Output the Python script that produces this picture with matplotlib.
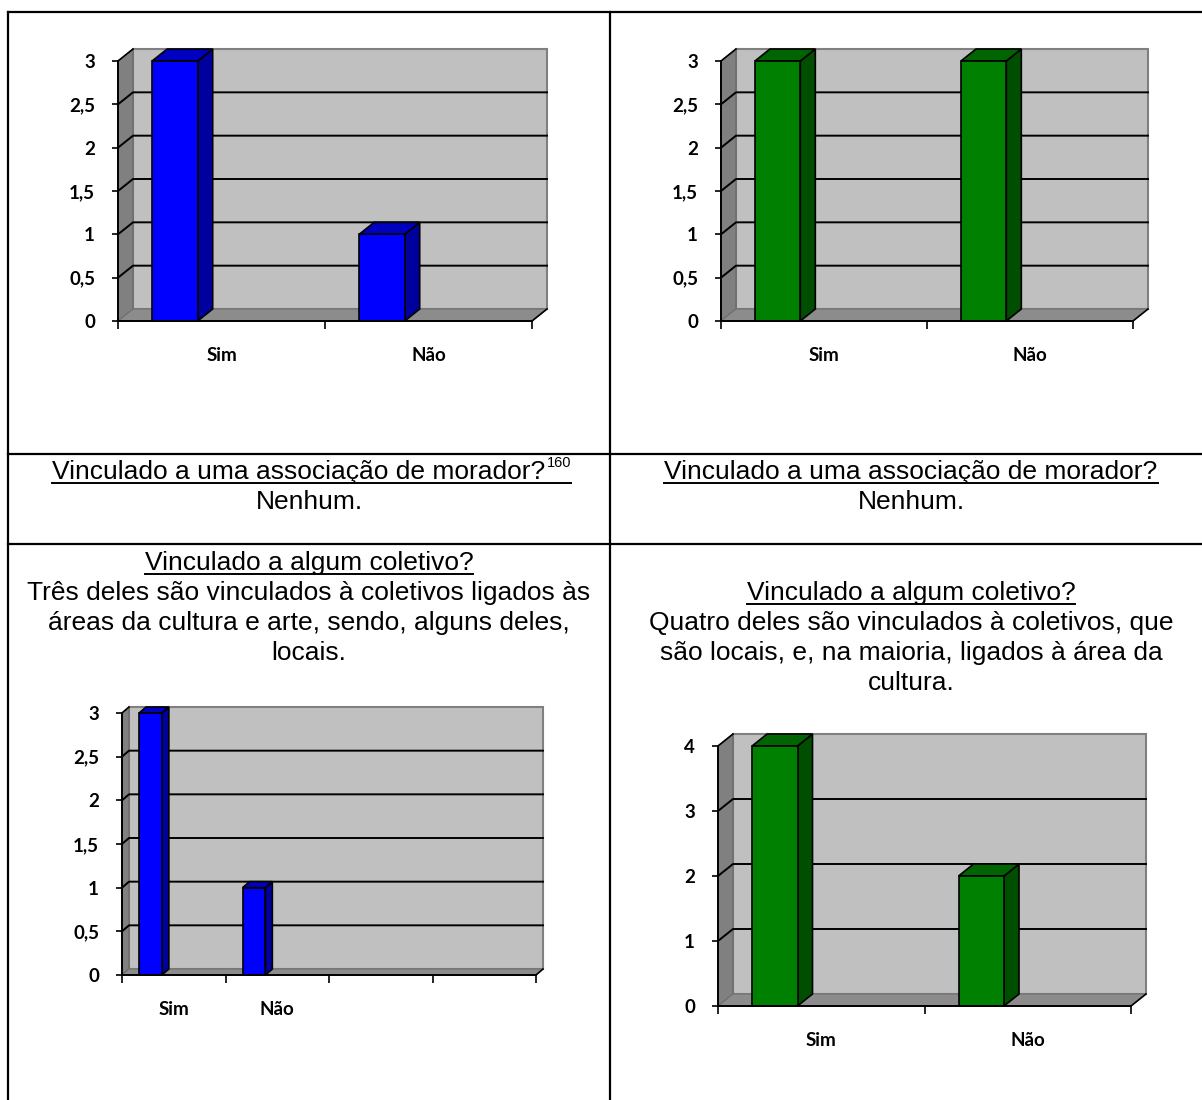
import matplotlib
matplotlib.use("Agg")
import matplotlib.pyplot as plt
from matplotlib.lines import Line2D
from matplotlib.patches import Polygon, Rectangle
from matplotlib.ticker import FixedLocator, FuncFormatter, NullFormatter

# dados dos quatro gráficos
categorias = ["Sim", "Não"]
categorias_coletivo_esq = ["Sim", "Não", "", ""]

valores_morador_esq = [3, 1]
valores_morador_dir = [3, 3]
valores_coletivo_esq = [3, 1]
valores_coletivo_dir = [4, 2]

ticks_meio = [0, 0.5, 1, 1.5, 2, 2.5, 3]
ticks_inteiros = [0, 1, 2, 3, 4]

# textos da tabela
pergunta_morador = "Vinculado a uma associação de morador?"
nota_morador = "160"
resposta_morador = "Nenhum."
pergunta_coletivo = "Vinculado a algum coletivo?"
resposta_coletivo_esq = [
    "Três deles são vinculados à coletivos ligados às",
    "áreas da cultura e arte, sendo, alguns deles,",
    "locais.",
]
resposta_coletivo_dir = [
    "Quatro deles são vinculados à coletivos, que",
    "são locais, e, na maioria, ligados à área da",
    "cultura.",
]

AZUL = ("#0000FF", "#00009E", "#0000C0")
VERDE = ("#008000", "#004F00", "#006400")

W, H = 1202, 1100
fig = plt.figure(figsize=(W / 100, H / 100), dpi=100)
fig.patch.set_facecolor("white")

FONTE_EIXO = dict(family=["Lato", "DejaVu Sans"], weight="bold", size=13.5)
FONTE_TEXTO = ["Liberation Sans", "DejaVu Sans"]


def eixo_px(esq, topo, dir_, base):
    return fig.add_axes([esq / W, 1 - base / H, (dir_ - esq) / W, (base - topo) / H])


def desloc_dados(ax, dx_px, dy_px):
    p0 = ax.transData.transform((0, 0))
    x1, y1 = ax.transData.inverted().transform((p0[0] + dx_px, p0[1] + dy_px))
    return x1, y1


def grafico_3d(caixa, nomes, valores, ticks, cores, prof):
    ax = eixo_px(*caixa)
    ncat = len(nomes)
    ymax = ticks[-1]
    ax.set_xlim(0, ncat)
    ax.set_ylim(0, ymax)
    ax.patch.set_visible(False)
    dx, dy = desloc_dados(ax, prof[0], prof[1])

    # parede do fundo, parede lateral e piso
    ax.add_patch(Rectangle((dx, dy), ncat, ymax, facecolor="#C0C0C0",
                           edgecolor="#808080", lw=1.5, clip_on=False, zorder=1))
    ax.add_patch(Polygon([(0, 0), (dx, dy), (dx, ymax + dy), (0, ymax)],
                         facecolor="#808080", edgecolor="#666666", lw=0.8,
                         clip_on=False, zorder=1))
    ax.add_patch(Polygon([(0, 0), (dx, dy), (ncat + dx, dy), (ncat, 0)],
                         facecolor="#8C8C8C", edgecolor="#707070", lw=0.8,
                         clip_on=False, zorder=1))
    ax.plot([ncat, ncat + dx], [0, dy], color="black", lw=1.2,
            clip_on=False, zorder=2)

    # linhas de grade na parede do fundo
    for t in ticks[1:-1]:
        ax.plot([0, dx, ncat + dx], [t, t + dy, t + dy], color="black",
                lw=1.4, clip_on=False, zorder=2)
    ax.plot([0, dx], [ymax, ymax + dy], color="black", lw=1.2,
            clip_on=False, zorder=2)

    # colunas: face frontal, lateral e topo
    frente, lado, topo = cores
    larg = 0.22
    xs = [i + 0.275 for i in range(len(valores))]
    ax.bar(xs, valores, width=larg, color=frente, edgecolor="black",
           lw=1.2, zorder=4, clip_on=False)
    for x, v in zip(xs, valores):
        xd = x + larg / 2
        xe = x - larg / 2
        ax.add_patch(Polygon([(xd, 0), (xd + dx, dy), (xd + dx, v + dy), (xd, v)],
                             facecolor=lado, edgecolor="black", lw=1.2,
                             clip_on=False, zorder=3))
        ax.add_patch(Polygon([(xe, v), (xe + dx, v + dy), (xd + dx, v + dy), (xd, v)],
                             facecolor=topo, edgecolor="black", lw=1.2,
                             clip_on=False, zorder=3))

    for lado_sp in ("top", "right"):
        ax.spines[lado_sp].set_visible(False)
    for lado_sp in ("left", "bottom"):
        ax.spines[lado_sp].set_linewidth(1.4)
        ax.spines[lado_sp].set_zorder(5)

    ax.yaxis.set_major_locator(FixedLocator(ticks))
    ax.yaxis.set_major_formatter(
        FuncFormatter(lambda v, p: f"{v:g}".replace(".", ",")))
    ax.tick_params(axis="y", length=4.5, width=1.2, pad=12)

    ax.xaxis.set_major_locator(FixedLocator(list(range(ncat + 1))))
    ax.xaxis.set_major_formatter(NullFormatter())
    ax.xaxis.set_minor_locator(FixedLocator([i + 0.5 for i in range(ncat)]))
    ax.set_xticklabels(nomes, minor=True)
    ax.tick_params(axis="x", which="major", length=6, width=1.2)
    ax.tick_params(axis="x", which="minor", length=0, pad=19)
    for lbl in ax.get_yticklabels() + ax.get_xticklabels(minor=True):
        lbl.set_fontfamily(FONTE_EIXO["family"])
        lbl.set_fontweight(FONTE_EIXO["weight"])
        lbl.set_fontsize(FONTE_EIXO["size"])
    return ax


grafico_3d((118, 61, 532, 321), categorias, valores_morador_esq,
           ticks_meio, AZUL, (15, 12))
grafico_3d((721, 61, 1133, 321), categorias, valores_morador_dir,
           ticks_meio, VERDE, (15, 12))
grafico_3d((122, 713, 536, 975), categorias_coletivo_esq, valores_coletivo_esq,
           ticks_meio, AZUL, (7, 6))
grafico_3d((718, 746, 1131, 1006), categorias, valores_coletivo_dir,
           ticks_inteiros, VERDE, (15, 12))

# bordas da tabela
def linha_px(xs, ys, lw=1.6):
    fig.add_artist(Line2D([x / W for x in xs], [1 - y / H for y in ys],
                          transform=fig.transFigure, color="black", lw=lw))


linha_px([8, W], [12, 12])
linha_px([8, 8], [12, H])
linha_px([610, 610], [12, H])
linha_px([8, W], [454, 454])
linha_px([8, W], [544, 544])

# textos
TAM = 19


def texto_px(x, y, s, **kw):
    return fig.text(x / W, 1 - y / H, s, ha="center", va="baseline",
                    family=FONTE_TEXTO, fontsize=TAM, **kw)


def sublinhar(textos, y):
    fig.canvas.draw()
    r = fig.canvas.get_renderer()
    x0 = min(t.get_window_extent(r).x0 for t in textos)
    x1 = max(t.get_window_extent(r).x1 for t in textos)
    fig.add_artist(Line2D([x0 / W, x1 / W], [1 - (y + 4) / H] * 2,
                          transform=fig.transFigure, color="black", lw=1.4))


CENTRO_ESQ, CENTRO_DIR = 309, 911

t1 = texto_px(CENTRO_ESQ - 10, 479, pergunta_morador)
fig.canvas.draw()
bb = t1.get_window_extent(fig.canvas.get_renderer())
t1s = fig.text(bb.x1 / W + 1 / W, 1 - 467 / H, nota_morador, ha="left",
               va="baseline", family=FONTE_TEXTO, fontsize=10.5)
sublinhar([t1, t1s], 479)
texto_px(CENTRO_ESQ, 509, resposta_morador)

t2 = texto_px(CENTRO_DIR, 479, pergunta_morador)
sublinhar([t2], 479)
texto_px(CENTRO_DIR, 509, resposta_morador)

t3 = texto_px(CENTRO_ESQ, 570, pergunta_coletivo)
sublinhar([t3], 570)
for i, s in enumerate(resposta_coletivo_esq):
    texto_px(CENTRO_ESQ, 600 + 30 * i, s)

t4 = texto_px(CENTRO_DIR, 600, pergunta_coletivo)
sublinhar([t4], 600)
for i, s in enumerate(resposta_coletivo_dir):
    texto_px(CENTRO_DIR, 630 + 30 * i, s)

fig.savefig("out.png", dpi=100)
